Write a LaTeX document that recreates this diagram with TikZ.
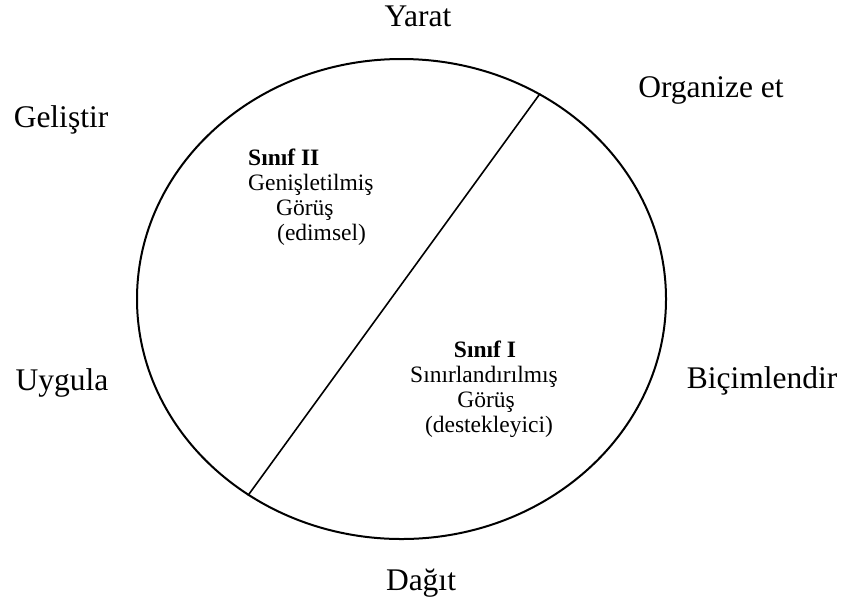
\documentclass[tikz,border=0pt]{standalone}
\usepackage{fontspec}
\setmainfont{Liberation Serif}
\usetikzlibrary{shapes.geometric}
\begin{document}
\begin{tikzpicture}[x=1pt,y=-1pt,
  outer/.style={font=\fontsize{31.5}{34}\selectfont, anchor=base, inner sep=0pt},
  inner/.style={font=\fontsize{23.5}{25}\selectfont, anchor=base, inner sep=0pt},
  innerL/.style={inner, anchor=base west},
  rim/.style={draw, line width=2pt, ellipse, inner sep=0pt,
    minimum width=529pt, minimum height=480pt}]
\path[use as bounding box] (0,0) rectangle (845,606);

% the cycle and the chord dividing the two classes
\node[rim] (circ) at (401.5,299) {};
\draw[line width=1.6pt] (circ.56.8) -- (circ.232.9);

% stages around the cycle
\node[outer] (yarat) at (418,26) {Yarat};
\node[outer] (org) at (711,97) {Organize et};
\node[outer] (gel) at (61,127) {Geliştir};
\node[outer] (bic) at (762,388) {Biçimlendir};
\node[outer] (uyg) at (62,390) {Uygula};
\node[outer] (dag) at (421,590) {Dağıt};

% class II (upper left)
\node[innerL] (c2a) at (248,165) {\textbf{Sınıf II}};
\node[innerL] (c2b) at (248,190) {Genişletilmiş};
\node[innerL] (c2c) at (276,215) {Görüş};
\node[innerL] (c2d) at (277,240) {(edimsel)};

% class I (lower right)
\node[inner] (c1a) at (485,357) {\textbf{Sınıf I}};
\node[inner] (c1b) at (484,382) {Sınırlandırılmış};
\node[inner] (c1c) at (486,407) {Görüş};
\node[inner] (c1d) at (489,432) {(destekleyici)};
\end{tikzpicture}
\end{document}
